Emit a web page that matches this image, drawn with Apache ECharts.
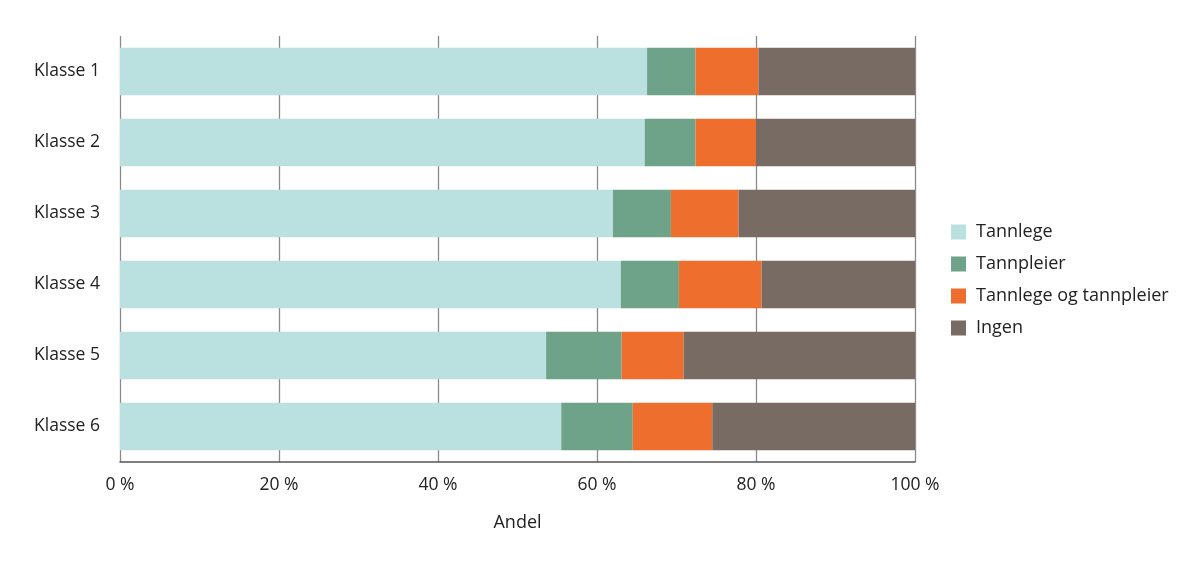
<!DOCTYPE html>
<html>
	<head>
		<meta charset="utf-8">
		<title>Andel</title>
		<script src="https://cdn.jsdelivr.net/npm/echarts@6/dist/echarts.min.js"></script>
		<style>
			html, body { margin: 0; padding: 0; background: #fff; }
			#main { width: 1200px; height: 569px; }
		</style>
	</head>
	<body>
		<div id="main"></div>
		<script type="text/javascript">
			// data (percent)
			var klasser = ['Klasse 1', 'Klasse 2', 'Klasse 3', 'Klasse 4', 'Klasse 5', 'Klasse 6'];
			var serieNavn = ['Tannlege', 'Tannpleier', 'Tannlege og tannpleier', 'Ingen'];
			var tannlege = [66.3, 66.0, 62.0, 63.0, 53.6, 55.5];
			var tannpleier = [6.1, 6.4, 7.3, 7.3, 9.5, 9.0];
			var begge = [7.9, 7.6, 8.5, 10.4, 7.8, 10.0];
			var ingen = [19.7, 20.0, 22.2, 19.3, 29.1, 25.5];
			var farger = ['#bae0df', '#6ea389', '#ee6f2d', '#786b63'];

			var verdier = [tannlege, tannpleier, begge, ingen];
			var fontFam = '"Open Sans", "Noto Sans", sans-serif';

			var chart = echarts.init(document.getElementById('main'));
			var series = serieNavn.map(function (navn, i) {
				return {
					name: navn,
					type: 'bar',
					stack: 'total',
					barCategoryGap: '33%',
					data: verdier[i],
					itemStyle: { color: farger[i] }
				};
			});

			var option = {
				animation: false,
				color: farger,
				textStyle: { fontFamily: fontFam },
				legend: {
					orient: 'vertical',
					left: 946,
					top: 218,
					itemWidth: 15,
					itemHeight: 15,
					itemGap: 14,
					icon: 'rect',
					textStyle: { fontSize: 18, color: '#222', fontFamily: fontFam, padding: [0, 0, 0, 5] },
					data: serieNavn
				},
				grid: {
					left: 120,
					right: 285,
					top: 36,
					bottom: 107
				},
				xAxis: {
					type: 'value',
					min: 0,
					max: 100,
					interval: 20,
					name: 'Andel',
					nameLocation: 'middle',
					nameGap: 52,
					nameTextStyle: { fontSize: 18, color: '#222' },
					axisLine: { show: true, lineStyle: { color: '#555', width: 1.5 } },
					axisTick: { show: false },
					axisLabel: {
						fontSize: 17.5,
						color: '#222',
						margin: 14,
						formatter: function (v) { return v + ' %'; }
					},
					splitLine: { show: true, lineStyle: { color: '#8a8a8a', width: 1.3 } }
				},
				yAxis: {
					type: 'category',
					inverse: true,
					data: klasser,
					axisLine: { show: false },
					axisTick: { show: false },
					axisLabel: { fontSize: 17.5, color: '#222', margin: 20 }
				},
				series: series
			};
			chart.setOption(option);
		</script>
	</body>
</html>
